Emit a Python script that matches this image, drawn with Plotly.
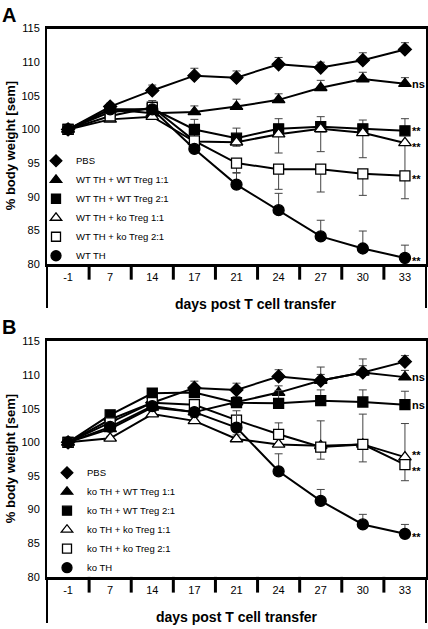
import plotly.graph_objects as go

# ---------------- data ----------------
days = ["-1", "7", "14", "17", "21", "24", "27", "30", "33"]

names_a = ["PBS", "WT TH + WT Treg 1:1", "WT TH + WT Treg 2:1",
           "WT TH + ko Treg 1:1", "WT TH + ko Treg 2:1", "WT TH"]
names_b = ["PBS", "ko TH + WT Treg 1:1", "ko TH + WT Treg 2:1",
           "ko TH + ko Treg 1:1", "ko TH + ko Treg 2:1", "ko TH"]

# Panel A values (% body weight) and sem
a_pbs = [100, 103.4, 105.8, 108.0, 107.7, 109.7, 109.2, 110.3, 111.9]
a_pbs_sem = [0, 0.5, 0.8, 1.1, 1.0, 1.0, 0.8, 1.1, 1.0]
a_wt11 = [100, 103.0, 102.4, 102.6, 103.4, 104.4, 106.2, 107.5, 106.8]
a_wt11_sem = [0, 0.4, 0.5, 0.9, 1.1, 0.9, 1.1, 1.0, 0.9]
a_wt21 = [100, 102.6, 103.1, 100.0, 98.7, 100.1, 100.4, 100.1, 99.8]
a_wt21_sem = [0, 0.4, 1.2, 1.5, 1.5, 1.5, 1.5, 1.3, 1.8]
a_ko11 = [100, 101.5, 101.9, 98.2, 98.1, 99.3, 100.1, 99.5, 98.0]
a_ko11_sem = [0, 0.3, 0.3, 0.6, 0.6, 2.8, 3.4, 3.7, 5.0]
a_ko21 = [100, 102.0, 103.3, 98.3, 95.0, 94.1, 94.1, 93.4, 93.1]
a_ko21_sem = [0, 0.3, 0.3, 0.6, 1.5, 3.0, 3.4, 3.2, 3.4]
a_th = [100, 103.0, 103.0, 97.1, 91.8, 88.0, 84.1, 82.3, 80.9]
a_th_sem = [0, 0.4, 0.5, 0.5, 1.8, 2.5, 2.4, 2.6, 1.9]

# Panel B values (% body weight) and sem
b_pbs = [100, 103.4, 105.9, 108.1, 107.8, 109.8, 109.2, 110.4, 112.0]
b_pbs_sem = [0, 0.4, 0.6, 1.0, 1.0, 1.0, 0.9, 1.0, 0.9]
b_wt11 = [100, 102.0, 105.2, 104.5, 106.0, 107.4, 109.2, 110.4, 109.7]
b_wt11_sem = [0, 0.4, 0.5, 0.6, 0.8, 1.0, 2.0, 2.0, 1.0]
b_wt21 = [100, 104.1, 107.3, 107.4, 105.9, 105.8, 106.2, 106.0, 105.6]
b_wt21_sem = [0, 0.3, 0.6, 0.6, 0.7, 1.9, 1.6, 1.8, 2.0]
b_ko11 = [100, 100.6, 104.2, 103.2, 100.5, 99.7, 99.5, 99.7, 97.8]
b_ko11_sem = [0, 0.3, 0.4, 0.5, 0.6, 3.2, 3.7, 4.5, 5.0]
b_ko21 = [100, 102.9, 105.9, 105.6, 103.3, 101.2, 99.3, 99.7, 96.7]
b_ko21_sem = [0, 0.3, 0.4, 0.5, 0.6, 0.6, 1.8, 2.6, 2.4]
b_th = [100, 102.3, 105.4, 104.5, 102.2, 95.7, 91.3, 87.8, 86.4]
b_th_sem = [0, 0.4, 0.5, 0.6, 2.5, 2.6, 1.7, 1.5, 1.4]

sig_a = ["", "ns", "**", "**", "**", "**"]
sig_b = ["", "ns", "ns", "**", "**", "**"]

series_a = [(a_pbs, a_pbs_sem), (a_wt11, a_wt11_sem), (a_wt21, a_wt21_sem),
            (a_ko11, a_ko11_sem), (a_ko21, a_ko21_sem), (a_th, a_th_sem)]
series_b = [(b_pbs, b_pbs_sem), (b_wt11, b_wt11_sem), (b_wt21, b_wt21_sem),
            (b_ko11, b_ko11_sem), (b_ko21, b_ko21_sem), (b_th, b_th_sem)]

# ---------------- style ----------------
symbols = ["diamond", "triangle-up", "square", "triangle-up", "square", "circle"]
fills = ["black", "black", "black", "white", "white", "black"]
sizes = [10, 11, 10, 11, 10, 11]
err_up_a = [True, True, True, False, False, True]
err_up_b = [True, True, True, True, False, True]
sig_yshift_a = [0, 0, 0, -4, -3, -3]
sig_yshift_b = [0, 0, 0, 2, -6, -3]

W, H = 428, 629
FONT = "Liberation Sans, Arial, sans-serif"

fig = go.Figure()


def add_panel(series, names, err_up, xa, ya, legend):
    for i, ((vals, sem), name) in enumerate(zip(series, names)):
        zero = [0] * len(sem)
        fig.add_trace(go.Scatter(
            x=days, y=vals, mode="lines+markers", xaxis=xa, yaxis=ya,
            line=dict(color="black", width=2),
            marker=dict(symbol=symbols[i], size=sizes[i], color=fills[i],
                        line=dict(color="black", width=1.3)),
            error_y=dict(type="data", symmetric=False,
                         array=sem if err_up[i] else zero,
                         arrayminus=zero if err_up[i] else sem,
                         color="#444", thickness=1, width=4),
            showlegend=False, name=name))
    for i, name in enumerate(names):
        fig.add_trace(go.Scatter(
            x=[None], y=[None], mode="markers", xaxis=xa, yaxis=ya,
            marker=dict(symbol=symbols[i], size=sizes[i] - 1, color=fills[i],
                        line=dict(color="black", width=1.3)),
            name=name, legend=legend, showlegend=True))


add_panel(series_a, names_a, err_up_a, "x", "y", "legend")
add_panel(series_b, names_b, err_up_b, "x2", "y2", "legend2")

xd = [47 / W, 426 / W]
dom_a = [1 - 263 / H, 1 - 23 / H]
dom_b = [1 - 582 / H, 1 - 342 / H]

xcommon = dict(type="category", range=[-0.5, 8.5], showline=True, linecolor="black",
               linewidth=2.5, mirror=True, ticks="", showgrid=False,
               tickfont=dict(family=FONT, size=11, color="black"),
               ticklabelstandoff=1, domain=xd, zeroline=False)
ycommon = dict(range=[80, 115], dtick=5, showline=True, linecolor="black",
               linewidth=2, mirror=True, ticks="", showgrid=False, zeroline=False,
               tickfont=dict(family=FONT, size=11, color="black"),
               ticklabelstandoff=3)

fig.update_layout(
    width=W, height=H, margin=dict(l=0, r=0, t=0, b=0),
    paper_bgcolor="white", plot_bgcolor="white",
    font=dict(family=FONT, color="black"),
    xaxis=dict(**xcommon, anchor="y"),
    yaxis=dict(**ycommon, domain=dom_a, anchor="x"),
    xaxis2=dict(**xcommon, anchor="y2",
                title=dict(text="<b>days post T cell transfer</b>", standoff=18,
                           font=dict(family=FONT, size=14, color="black"))),
    yaxis2=dict(**ycommon, domain=dom_b, anchor="x2"),
    legend=dict(x=36 / W, y=1 - 143 / H, xanchor="left", yanchor="top",
                bgcolor="rgba(0,0,0,0)", font=dict(family=FONT, size=9.5, color="black")),
    legend2=dict(x=47 / W, y=1 - 461 / H, xanchor="left", yanchor="top",
                 bgcolor="rgba(0,0,0,0)", font=dict(family=FONT, size=9.5, color="black")),
)

# significance labels next to the last point (category index of the last day)
last = len(days) - 1
for series, sig, xa, ya, ysh in [(series_a, sig_a, "x", "y", sig_yshift_a),
                                 (series_b, sig_b, "x2", "y2", sig_yshift_b)]:
    for (vals, _), s, dy in zip(series, sig, ysh):
        if s:
            fig.add_annotation(x=last, y=vals[-1], xref=xa, yref=ya, text="<b>%s</b>" % s,
                               showarrow=False, xanchor="left", xshift=6, yshift=dy,
                               borderpad=0,
                               font=dict(family=FONT, size=11, color="black"))

# category separators below the x axis
for xa, ya in [("x", "y"), ("x2", "y2")]:
    for k in range(len(days) - 1):
        fig.add_shape(type="line", xref=xa, yref=ya + " domain",
                      x0=k + 0.5, x1=k + 0.5, y0=0, y1=-16 / 240,
                      line=dict(color="black", width=3))

# panel A axis title (offset to the right as in the original) and panel letters
fig.add_annotation(x=256 / W, y=1 - 304 / H, xref="paper", yref="paper",
                   xanchor="center", yanchor="middle",
                   text="<b>days post T cell transfer</b>", showarrow=False,
                   font=dict(family=FONT, size=14, color="black"))
for letter, ly in [("A", 9), ("B", 327)]:
    fig.add_annotation(x=0, y=1 - ly / H, xref="paper", yref="paper", xanchor="left",
                       yanchor="middle",
                       text="<b>%s</b>" % letter, showarrow=False,
                       font=dict(family=FONT, size=20, color="black"))
for yc in [143, 462]:
    fig.add_annotation(x=10 / W, y=1 - yc / H, xref="paper", yref="paper",
                       xanchor="center", yanchor="middle",
                       text="<b>% body weight [sem]</b>", showarrow=False, textangle=-90,
                       font=dict(family=FONT, size=13, color="black"))

# frame lines extending below the category labels
for top, bot in [(263, 308), (582, 629)]:
    for xp in [47, 426]:
        fig.add_shape(type="line", xref="paper", yref="paper",
                      x0=xp / W, x1=xp / W, y0=1 - top / H, y1=1 - bot / H,
                      line=dict(color="black", width=2))

fig.write_html("out.html", config={"displayModeBar": False},
               post_script="document.body.style.margin='0';")
